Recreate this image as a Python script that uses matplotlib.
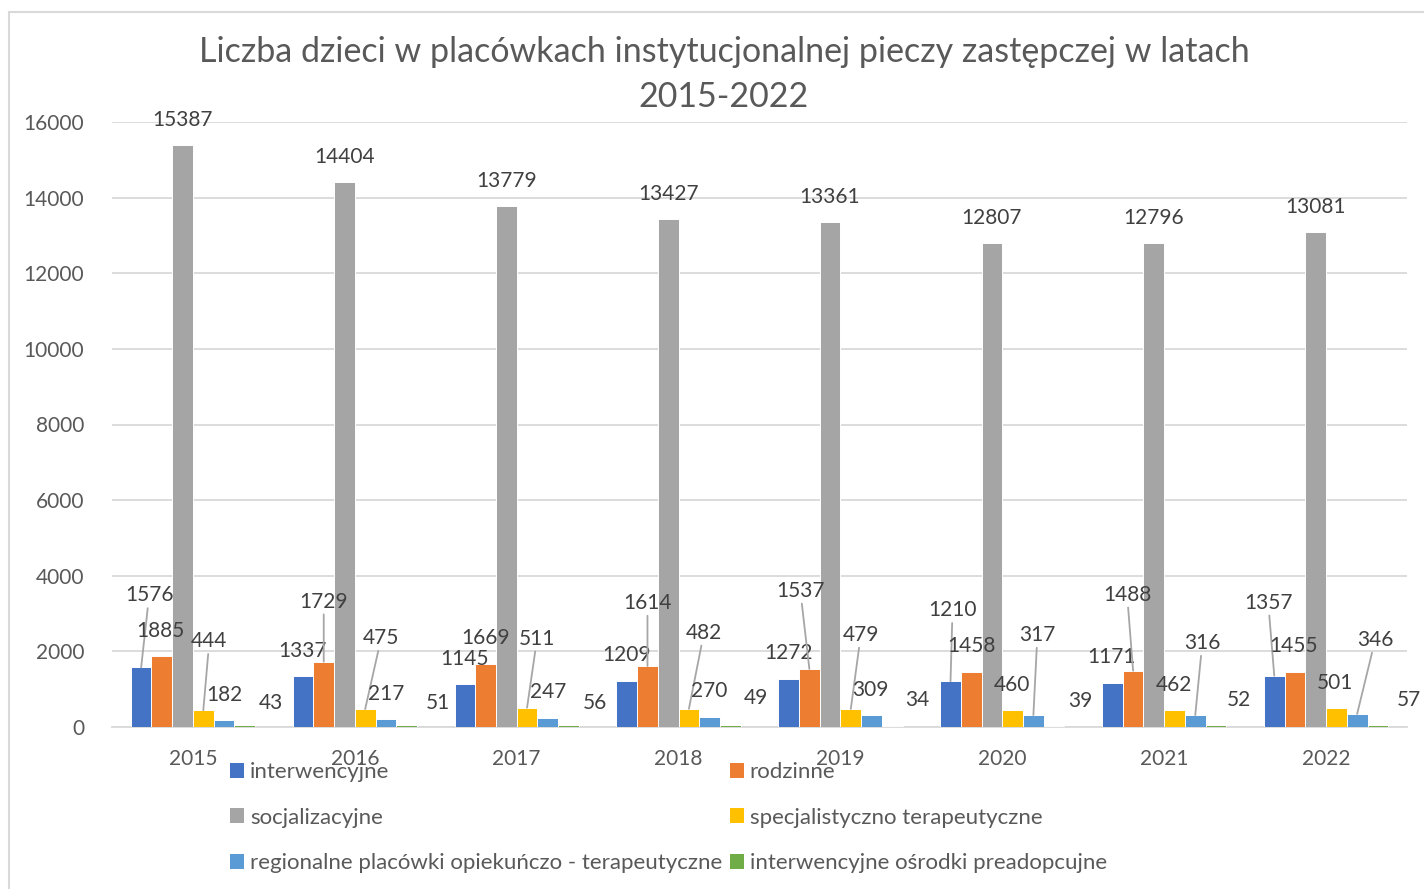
import matplotlib
matplotlib.use("Agg")
import matplotlib.pyplot as plt
from matplotlib.patches import Patch, Rectangle
import numpy as np

plt.rcParams['font.family'] = ['Lato', 'DejaVu Sans']

# Data
years = ['2015', '2016', '2017', '2018', '2019', '2020', '2021', '2022']
interwencyjne = [1576, 1337, 1145, 1209, 1272, 1210, 1171, 1357]
rodzinne = [1885, 1729, 1669, 1614, 1537, 1458, 1488, 1455]
socjalizacyjne = [15387, 14404, 13779, 13427, 13361, 12807, 12796, 13081]
specjalistyczno = [444, 475, 511, 482, 479, 460, 462, 501]
regionalne = [182, 217, 247, 270, 309, 317, 316, 346]
preadopcyjne = [43, 51, 56, 49, 34, 39, 52, 57]

series_names = ['interwencyjne', 'rodzinne', 'socjalizacyjne', 'specjalistyczno terapeutyczne',
                'regionalne placówki opiekuńczo - terapeutyczne', 'interwencyjne ośrodki preadopcujne']
series_values = [interwencyjne, rodzinne, socjalizacyjne, specjalistyczno, regionalne, preadopcyjne]
colors = ['#4472c4', '#ed7d31', '#a5a5a5', '#ffc000', '#5b9bd5', '#70ad47']

# Label placement (pixel offsets from the bar top), mimicking the Excel layout
label_dx = [
    [8, 0, 0, 0, 0, 2, -1, -6],
    [-1, 0, 0, 0, -9, 0, -6, -1],
    [0, 0, 0, 0, 0, 0, 0, 0],
    [6, 16, 10, 15, 10, -1, -1, -1],
    [0, 0, 0, 0, -1, 4, 7, 18],
    [26, 31, 26, 26, 25, 26, 23, 31],
]
label_dy = [
    [72, 25, 25, 26, 26, 71, 26, 73],
    [25, 60, 26, 63, 78, 26, 76, 26],
    [25, 25, 25, 25, 25, 25, 25, 25],
    [69, 71, 69, 76, 74, 25, 25, 25],
    [25, 25, 26, 26, 25, 80, 72, 74],
    [22, 22, 22, 27, 26, 25, 25, 25],
]
leader = [
    [1, 0, 0, 0, 0, 1, 0, 1],
    [0, 1, 0, 1, 1, 0, 1, 0],
    [0, 0, 0, 0, 0, 0, 0, 0],
    [1, 1, 1, 1, 1, 0, 0, 0],
    [0, 0, 0, 0, 0, 1, 1, 1],
    [0, 0, 0, 0, 0, 0, 0, 0],
]

W, H = 1424, 889
fig = plt.figure(figsize=(W / 100, H / 100), dpi=100)
fig.patch.set_facecolor('white')

# chart border (cropped at right and bottom)
fig.patches.append(Rectangle((9 / W, -0.1), 1.2, (H - 12) / H + 0.1, transform=fig.transFigure,
                             fill=False, edgecolor='#d9d9d9', lw=1.5))

ax = fig.add_axes([112 / W, (H - 727) / H, (1407 - 112) / W, 605 / H])

x = np.arange(len(years))
bw = 0.128
for k, (name, vals) in enumerate(zip(series_names, series_values)):
    pos = x + (k - 2.5) * bw
    ax.bar(pos, vals, width=bw, color=colors[k], edgecolor='white', linewidth=0.7, label=name, zorder=3)
    for i, v in enumerate(vals):
        if leader[k][i]:
            arrow = dict(arrowstyle='-', color='#a6a6a6', lw=1.3, shrinkA=0, shrinkB=0)
        else:
            arrow = None
        ax.annotate(str(v), xy=(pos[i], v), xytext=(label_dx[k][i], label_dy[k][i]),
                    textcoords='offset pixels', ha='center', va='center',
                    fontsize=15, color='#404040', arrowprops=arrow, zorder=4)

ax.set_xlim(-0.5, len(years) - 0.5)
ax.set_ylim(0, 16000)
ax.set_yticks(range(0, 16001, 2000))
ax.set_xticks(x)
ax.set_xticklabels(years)
ax.tick_params(axis='both', length=0, labelsize=15, labelcolor='#595959')
ax.tick_params(axis='x', pad=16)
ax.tick_params(axis='y', pad=20)
ax.grid(axis='y', color='#d9d9d9', lw=1.3, zorder=0)
for s in ['top', 'right', 'left']:
    ax.spines[s].set_visible(False)
ax.spines['bottom'].set_color('#d9d9d9')
ax.spines['bottom'].set_linewidth(1.3)
ax.spines['bottom'].set_zorder(2)

# title
fig.text(724 / W, 1 - 62 / H, 'Liczba dzieci w placówkach instytucjonalnej pieczy zastępczej w latach',
         ha='center', va='baseline', fontsize=24.5, color='#595959')
fig.text(724 / W, 1 - 107 / H, '2015-2022', ha='center', va='baseline', fontsize=24.5, color='#595959')

# legend, filled row by row like the original
order = [0, 2, 4, 1, 3, 5]
handles = [Patch(facecolor=colors[k], edgecolor='none') for k in order]
labels = [series_names[k] for k in order]
fig.legend(handles, labels, ncol=2, loc='upper left', bbox_to_anchor=(230 / W, 1 - 762 / H),
           frameon=False, fontsize=16, labelcolor='#595959', handlelength=0.65, handleheight=0.65,
           handletextpad=0.25, columnspacing=0.33, labelspacing=1.15, borderpad=0, borderaxespad=0)

fig.savefig('out.png', dpi=100)
